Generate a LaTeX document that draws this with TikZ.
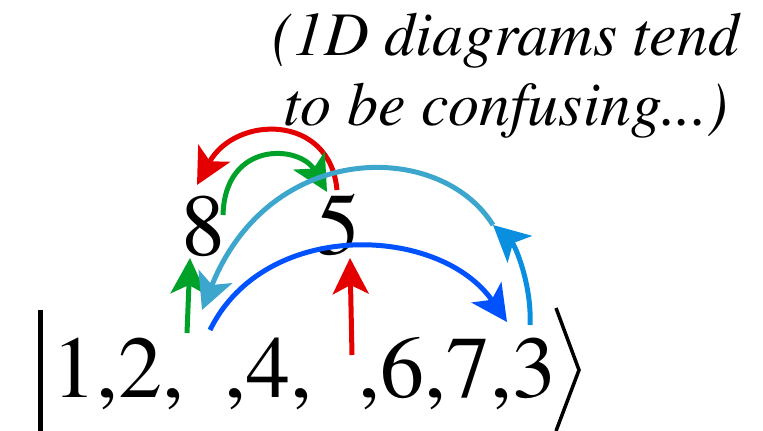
\documentclass[tikz,border=0pt]{standalone}
\usepackage[T1]{fontenc}
\usepackage{mathptmx}
\usepackage{xcolor}
\definecolor{swapred}{rgb}{0.90, 0, 0}
\definecolor{swapgreen}{rgb}{0, 0.63, 0.16}
\definecolor{swapblue}{rgb}{0, 0.32, 1}
\definecolor{skyblue}{rgb}{0.24, 0.65, 0.80}
\definecolor{brightblue}{rgb}{0.04, 0.56, 0.88}
\usetikzlibrary{arrows.meta}
\tikzset{
  move/.style={line width=5pt, -{Stealth[length=36pt, width=36pt, inset=9pt]}},
  digit/.style={font=\fontsize{88}{88}\selectfont, inner sep=0pt},
  remark/.style={font=\fontsize{62}{69}\selectfont\itshape, inner sep=0pt, anchor=base}
}

\begin{document}
\begin{tikzpicture}[x=1pt, y=-1pt]
  \useasboundingbox (0,0) rectangle (763,431);

  % comment above
  \node[remark] (title1) at (506,55) {(1D diagrams tend};
  \node[remark] (title2) at (506,125) {to be confusing...)};

  % the ket with two holes
  \draw[line width=5pt] (40,310) -- (40,431);
  \node[digit, anchor=base west] (ketA) at (52,397) {1,2,};
  \node[digit, anchor=base west] (ketB) at (224,397) {,4,};
  \node[digit, anchor=base west] (ketC) at (358,397) {,6,7,3};
  \draw[line width=3.5pt] (556,308) -- (579,370) -- (556,431);

  % the two values lifted out
  \node[digit, anchor=base] (eight) at (203,255) {8};
  \node[digit, anchor=base] (five) at (338,254) {5};

  % end points of the moves
  \coordinate (holeA) at (187,333);
  \coordinate (holeB) at (352,355);
  \coordinate (eightTop) at (197,185);
  \coordinate (eightSide) at (223,215);
  \coordinate (fiveTop) at (337,190);
  \coordinate (fiveTip) at (327,192);
  \coordinate (afterTwo) at (202,310);
  \coordinate (fromTwo) at (210,330);
  \coordinate (threeTop) at (530,325);
  \coordinate (threeTip) at (507,322);
  \coordinate (bend) at (493,225);

  % lifting out
  \draw[move, swapgreen] (holeA) -- (190,258);
  \draw[move, swapred] (holeB) -- (350,258);

  % swapping 8 and 5
  \draw[move, swapred] (fiveTop) .. controls (330,113) and (235,115) .. (eightTop);
  \draw[move, swapgreen] (eightSide) .. controls (225,140) and (300,145) .. (fiveTip);

  % 2 goes right, 3 comes back
  \draw[move, swapblue] (fromTwo) .. controls (265,218) and (440,225) .. (threeTip);
  \draw[move, brightblue] (threeTop) .. controls (532,285) and (515,245) .. (bend);
  \draw[move, skyblue] (bend) .. controls (440,140) and (270,140) .. (afterTwo);

\end{tikzpicture}
\end{document}
